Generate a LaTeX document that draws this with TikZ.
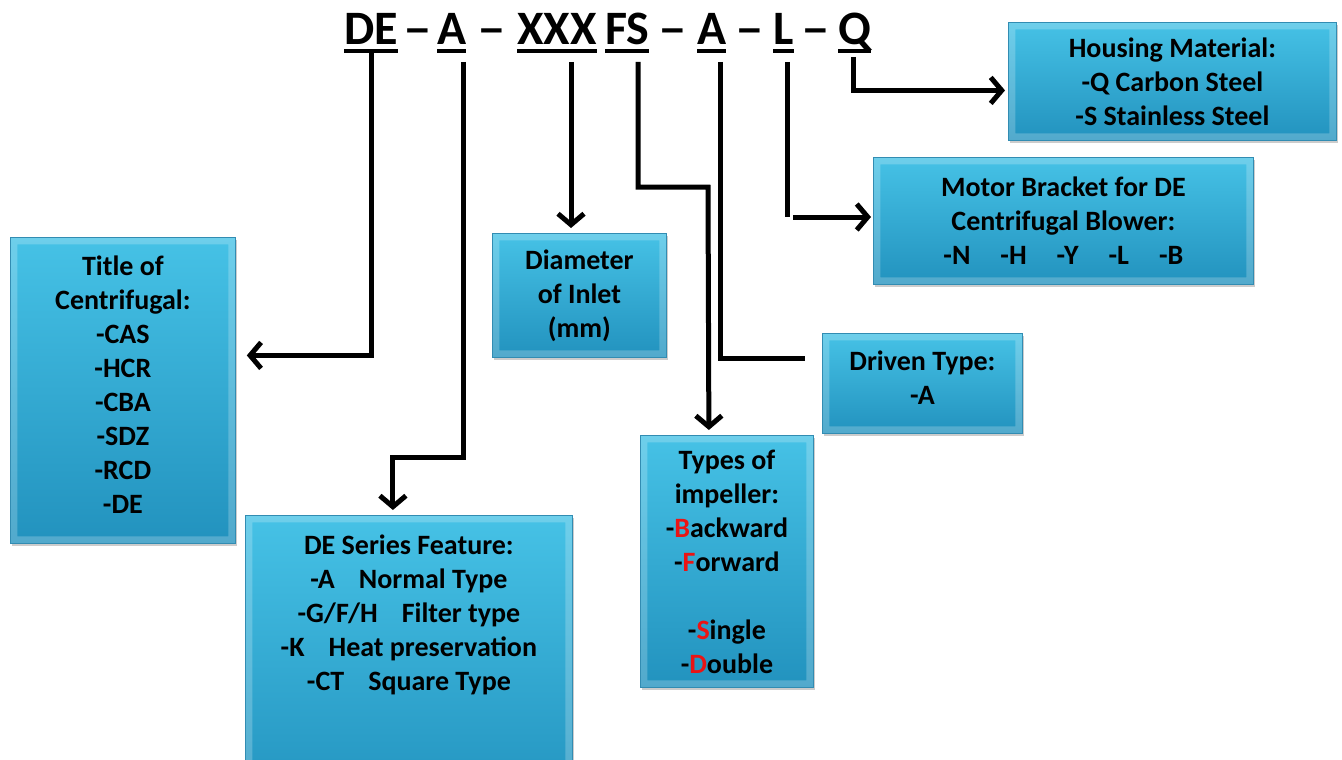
\documentclass[tikz,border=0pt]{standalone}
\usepackage{fontspec}
\setmainfont{Carlito}
\usetikzlibrary{arrows.meta,calc,shadows}
\definecolor{boxtop}{RGB}{70,194,230}
\definecolor{boxbot}{RGB}{34,146,190}
\definecolor{boxrim}{RGB}{50,140,178}
\definecolor{keyred}{RGB}{235,20,20}
\tikzset{
	codetext/.style={font=\fontsize{48}{58}\selectfont\bfseries, inner sep=0pt, anchor=base west},
	uline/.style={line width=4pt},
	infobox/.style={draw=boxrim, line width=0.8pt, top color=boxtop, bottom color=boxbot,
		align=center, font=\fontsize{28}{34}\selectfont\bfseries, inner sep=0pt, anchor=north west,
		drop shadow={shadow xshift=2pt, shadow yshift=-3pt, opacity=0.4},
		path picture={\fill[white, opacity=0.22, even odd rule]
			(path picture bounding box.south west) rectangle (path picture bounding box.north east)
			([shift={(7pt,7pt)}]path picture bounding box.south west) rectangle ([shift={(-7pt,-7pt)}]path picture bounding box.north east);}},
	link/.style={line width=5pt},
	linkarrow/.style={link, -{Straight Barb[length=11pt,width=26pt]}},
}
\newcommand{\rd}[1]{\textcolor{keyred}{#1}}
\begin{document}
\begin{tikzpicture}[x=1pt, y=-1pt]
	\useasboundingbox (0,0) rectangle (1342,760);
	\clip (0,0) rectangle (1342,760);

	% code line
	\node[codetext] (cDE) at (344,45) {DE};
	\node[codetext] (cA) at (437,45) {A};
	\node[codetext] (cX) at (517,45) {XXX};
	\node[codetext] (cFS) at (605,45) {FS};
	\node[codetext] (cA2) at (697,45) {A};
	\node[codetext] (cL) at (773,45) {L};
	\node[codetext] (cQ) at (838,45) {Q};
	\foreach \a/\b in {cDE/cA, cA/cX, cFS/cA2, cA2/cL, cL/cQ}
	{
		\node[codetext, anchor=base] (dash-\a) at ($(\a.base east)!0.5!(\b.base west)$) {\scalebox{1.2}[1]{--}};
	}
	\foreach \n in {cDE, cA, cX, cFS, cA2, cL, cQ}
	{
		\draw[uline] ([yshift=-6pt]\n.base west) -- ([yshift=-6pt]\n.base east);
	}

	% boxes
	\node[infobox, minimum width=328pt, minimum height=118pt] (housing) at (1008,22)
		{Housing Material:\\-Q Carbon Steel\\-S Stainless Steel};
	\node[infobox, minimum width=380pt, minimum height=127pt] (motor) at (873,157)
		{Motor Bracket for DE\\Centrifugal Blower:\\-N\hspace{30pt}-H\hspace{30pt}-Y\hspace{30pt}-L\hspace{30pt}-B};
	\node[infobox, minimum width=225pt, minimum height=306pt] (title) at (10,237)
		{Title of\\Centrifugal:\\-CAS\\-HCR\\-CBA\\-SDZ\\-RCD\\-DE\\[-22pt]~};
	\node[infobox, minimum width=174pt, minimum height=124pt] (diam) at (492,233)
		{Diameter\\of Inlet\\(mm)};
	\node[infobox, minimum width=200pt, minimum height=100pt] (drive) at (822,333)
		{Driven Type:\\-A\\[-22pt]~};
	\node[infobox, minimum width=173pt, minimum height=252pt] (imp) at (640,435)
		{Types of\\impeller:\\-\rd{B}ackward\\-\rd{F}orward\\[34pt]-\rd{S}ingle\\-\rd{D}ouble};
	\node[infobox, minimum width=327pt, minimum height=296pt] (series) at (245,515)
		{DE Series Feature:\\-A\hspace{24pt}Normal Type\\-G/F/H\hspace{24pt}Filter type\\-K\hspace{24pt}Heat preservation\\-CT\hspace{24pt}Square Type\\[68pt]~};

	% connectors
	\coordinate (sDE) at (371,53);
	\coordinate (sA) at (463,62);
	\coordinate (sX) at (571,62);
	\coordinate (sFS) at (638,62);
	\coordinate (sA2) at (720,62);
	\coordinate (sL) at (787,62);
	\coordinate (sQ) at (853,57);

	\draw[linkarrow, shorten >=11pt] (sDE) |- ([yshift=35pt]title.east);
	\draw[linkarrow, shorten >=5pt] (sA) -- ++(0,395) -| ([xshift=-16pt]series.north);
	\draw[linkarrow, shorten >=5pt] (sX) -- (sX |- diam.north);
	\draw[linkarrow, shorten >=5pt] (sFS) -- ++(0,125) -- ++(70,0) -- ([xshift=-18pt]imp.north);
	\draw[link, shorten >=17pt] (sA2) |- ([yshift=25pt]drive.west);
	\draw[link] (sL) -- ++(0,155) coordinate (kL);
	\draw[linkarrow, shorten >=2pt] ([xshift=6pt]kL) -- (kL -| motor.west);
	\draw[linkarrow, shorten >=3pt] (sQ) |- ([yshift=-9pt]housing.west);
\end{tikzpicture}
\end{document}
